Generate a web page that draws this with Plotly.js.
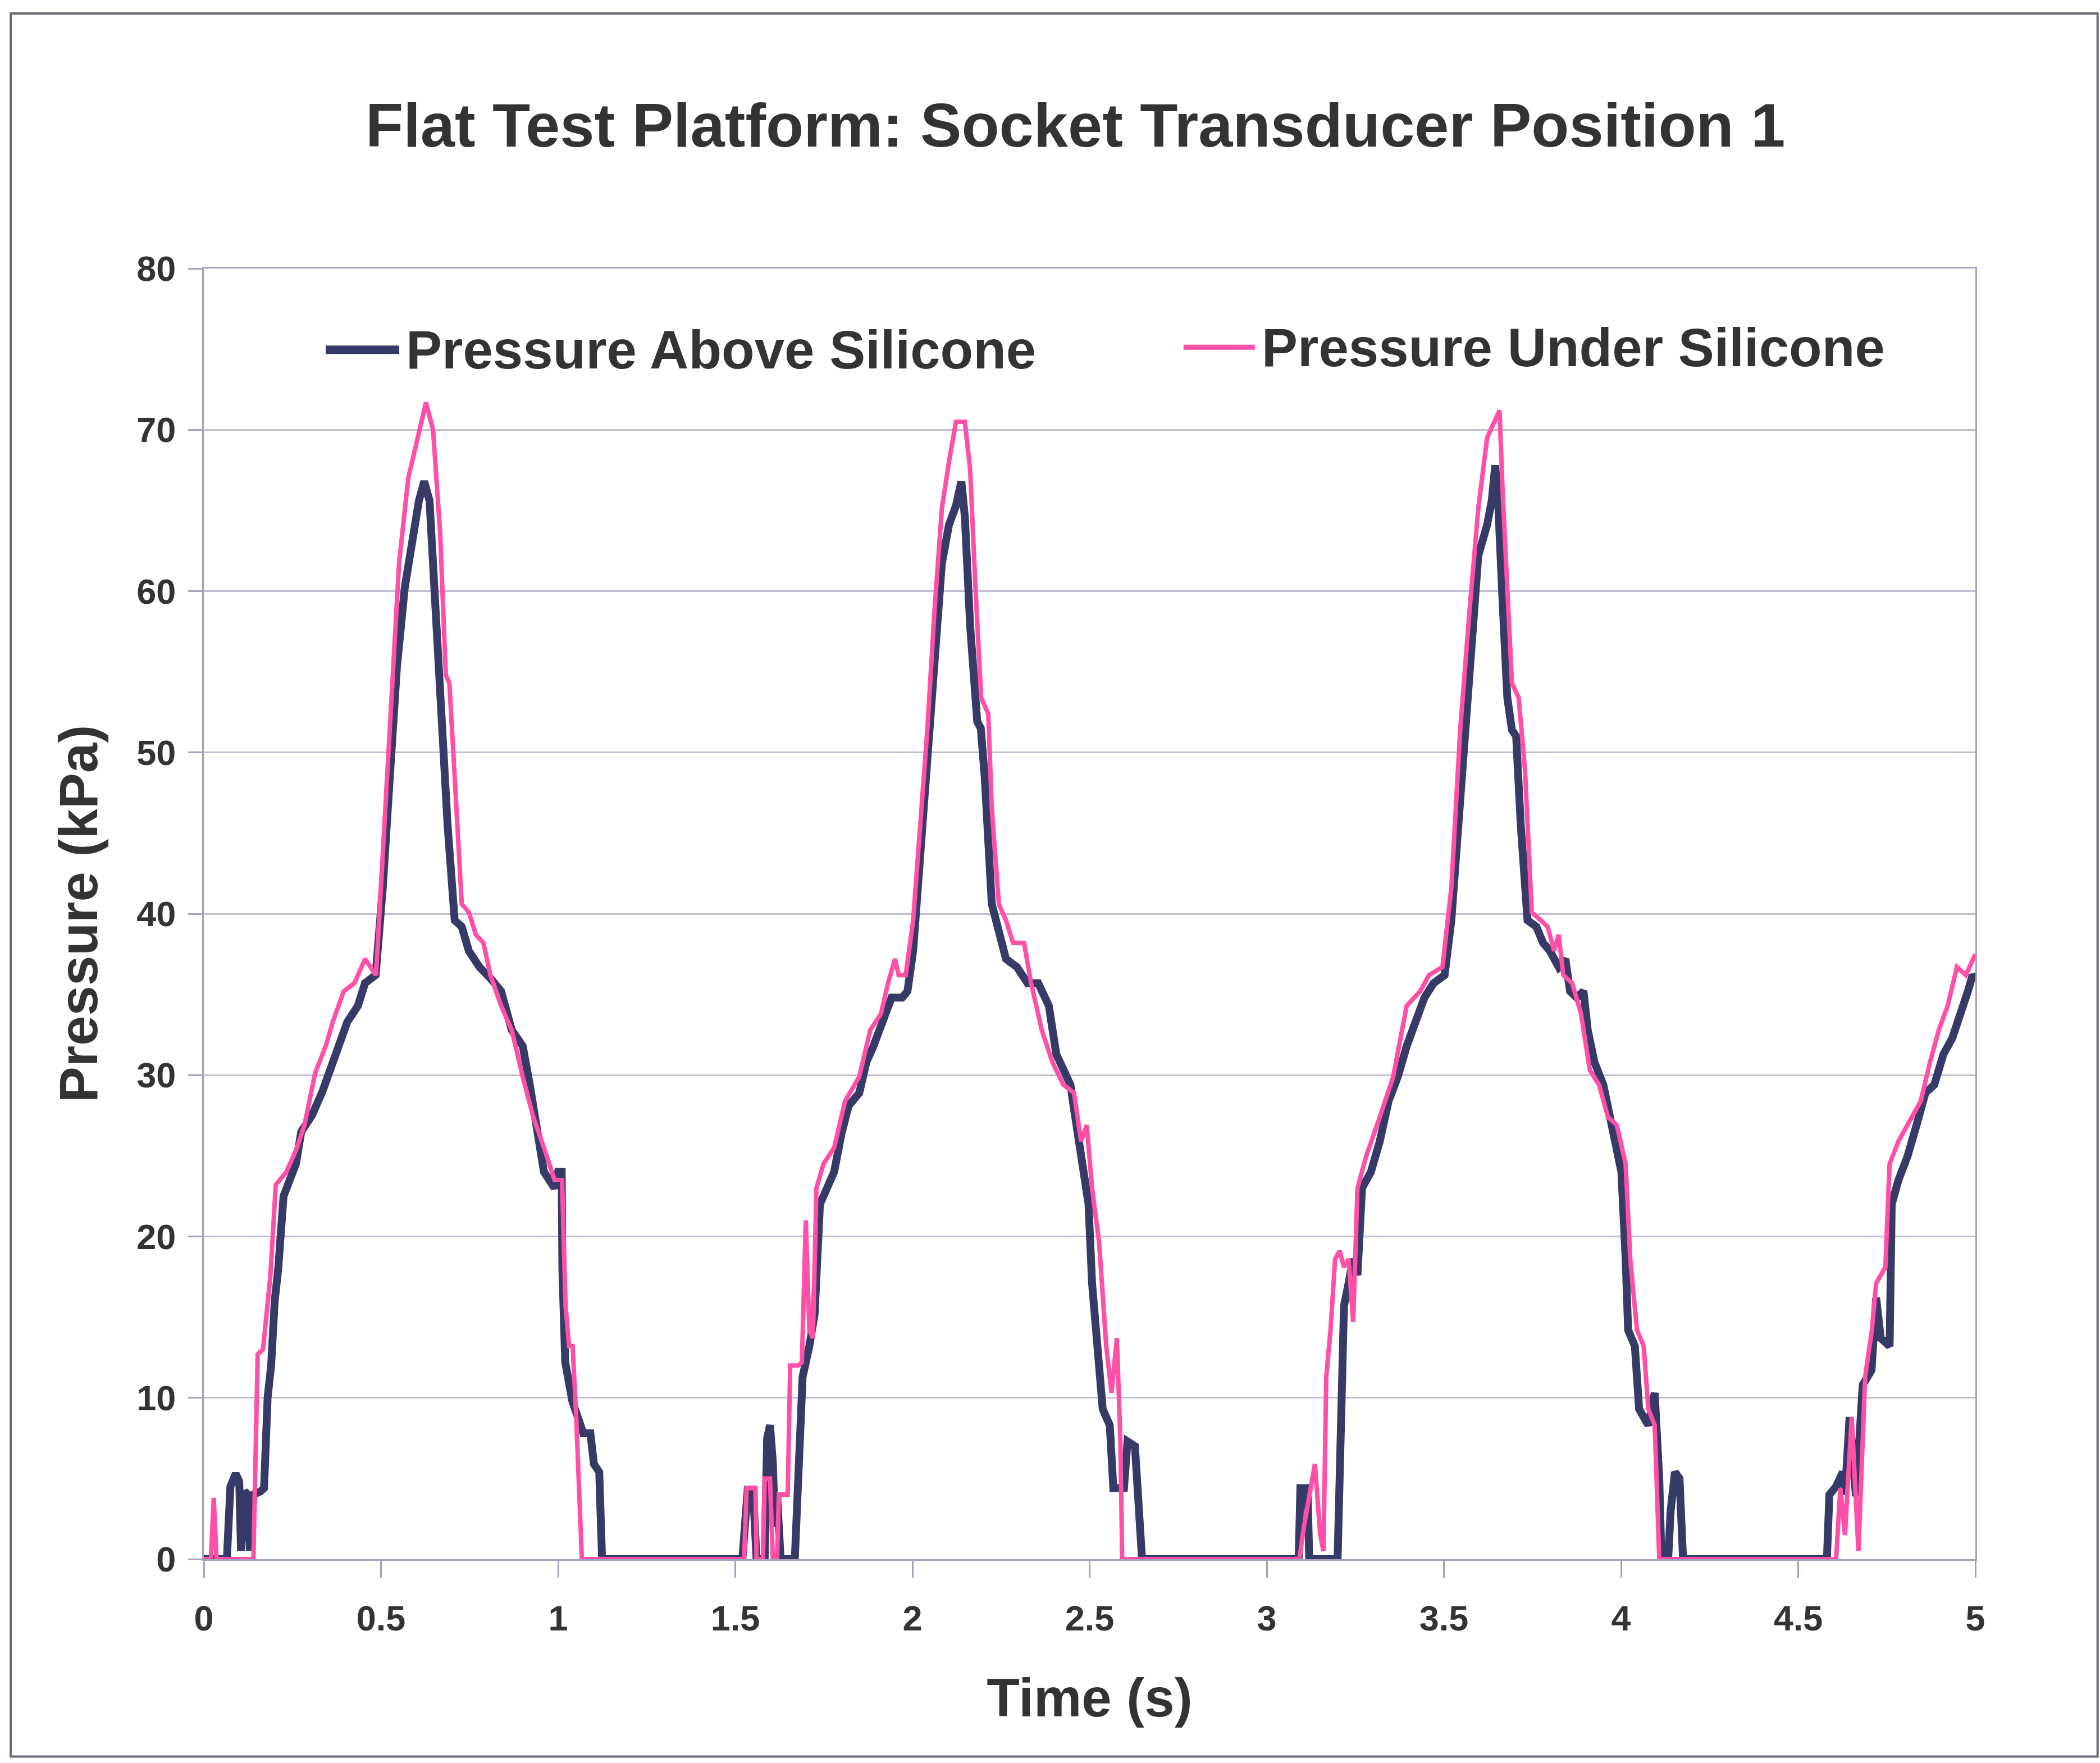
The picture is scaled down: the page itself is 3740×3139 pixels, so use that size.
<!DOCTYPE html>
<html>
<head>
<meta charset="utf-8">
<script src="https://cdn.plot.ly/plotly-3.0.1.min.js"></script>
<style>
  html, body { margin: 0; padding: 0; background: #ffffff; }
  #chart { width: 3740px; height: 3139px; }
</style>
</head>
<body>
<div id="chart"></div>
<script>
// ---- Data ----
const chartTitle = "Flat Test Platform: Socket Transducer Position 1";
const xAxisTitle = "Time (s)";
const yAxisTitle = "Pressure (kPa)";
const seriesNames = ["Pressure Above Silicone", "Pressure Under Silicone"];

// Pressure Above Silicone (kPa) vs time (s)
const aboveTime = [
  0.00, 0.065, 0.075, 0.09, 0.10, 0.105, 0.115, 0.125, 0.13, 0.14, 0.16, 0.17, 0.18, 0.19, 0.20, 0.21,
  0.225, 0.235, 0.26, 0.275, 0.305, 0.335, 0.365, 0.385, 0.405, 0.435, 0.455, 0.485, 0.505, 0.525,
  0.545, 0.567, 0.587, 0.607, 0.622, 0.637, 0.652, 0.667, 0.677, 0.688, 0.708, 0.728, 0.748, 0.778,
  0.809, 0.839, 0.869, 0.90, 0.92, 0.94, 0.96, 0.99, 1.00, 1.01, 1.012, 1.02, 1.04, 1.071, 1.091,
  1.101, 1.116, 1.124,
  1.52, 1.535, 1.55, 1.56, 1.583, 1.59, 1.598, 1.606, 1.612, 1.618, 1.628, 1.668, 1.675, 1.69, 1.709,
  1.724, 1.739, 1.759, 1.779, 1.80, 1.82, 1.85, 1.87, 1.89, 1.921, 1.941, 1.971, 1.986, 2.002, 2.022,
  2.042, 2.062, 2.083, 2.103, 2.123, 2.138, 2.148, 2.163, 2.183, 2.193, 2.204, 2.224, 2.244, 2.264,
  2.295, 2.325, 2.355, 2.385, 2.406, 2.426, 2.446, 2.456, 2.476, 2.497, 2.507, 2.517, 2.527, 2.537,
  2.557, 2.567, 2.597, 2.607, 2.628, 2.638, 2.648,
  3.09, 3.095, 3.115, 3.12, 3.20, 3.212, 3.218, 3.231, 3.243, 3.256, 3.269, 3.294, 3.319, 3.344, 3.37,
  3.395, 3.42, 3.445, 3.471, 3.502, 3.521, 3.54, 3.559, 3.578, 3.597, 3.622, 3.635, 3.645, 3.654,
  3.666, 3.679, 3.692, 3.704, 3.717, 3.736, 3.761, 3.78, 3.799, 3.824, 3.843, 3.856, 3.875, 3.894,
  3.906, 3.925, 3.95, 3.976, 4.001, 4.013, 4.02, 4.039, 4.051, 4.077, 4.095, 4.108, 4.114, 4.133,
  4.14, 4.152, 4.165, 4.175,
  4.581, 4.588, 4.607, 4.626, 4.632, 4.645, 4.663, 4.682, 4.707, 4.72, 4.733, 4.758, 4.764, 4.783,
  4.809, 4.834, 4.859, 4.884, 4.91, 4.935, 4.96, 4.979, 4.992, 5.00
];
const abovePressure = [
  0, 0, 4.5, 5.3, 4.8, 0.5, 4.2, 4.0, 0.5, 4.0, 4.2, 4.4, 10, 12, 16, 18,
  22.5, 23, 24.5, 26.5, 27.5, 29, 30.8, 31.8, 33.3, 34.3, 35.7, 36.2, 41.6, 48.5,
  55.3, 60.2, 63.1, 65.6, 66.8, 65.6, 59.7, 52.9, 49.4, 45.5, 39.6, 39.2, 37.7, 36.7,
  36.0, 35.2, 32.8, 31.8, 29.4, 26.9, 24.0, 23.0, 24.0, 24.0, 18, 12.2, 9.8, 7.8, 7.8,
  5.9, 5.4, 0,
  0, 4.3, 4.3, 0, 0, 7.5, 8.3, 6, 2, 4, 0, 0, 3.9, 11.3, 13.2,
  15.2, 22, 23, 24, 26.4, 28.1, 28.9, 30.8, 31.8, 33.8, 34.8, 34.8, 35.2, 37.7, 43.6,
  48.9, 55.3, 61.7, 64.1, 65.3, 66.8, 64.6, 57.8, 51.9, 51.5, 48.5, 40.6, 38.7, 37.2,
  36.7, 35.7, 35.7, 34.3, 31.3, 30.3, 29.4, 27.9, 25, 22, 17.1, 14.2, 12.7, 9.3,
  8.3, 4.4, 4.4, 7.3, 7, 3.4, 0,
  0, 4.4, 4.4, 0, 0, 11.3, 15.7, 17.1, 18.6, 17.6, 23, 24, 25.9, 28.4, 29.9,
  31.8, 33.3, 34.8, 35.7, 36.2, 39.6, 45.5, 51.4, 57.3, 62.2, 64.1, 65.6, 67.8, 65.1,
  59.2, 53.4, 51.4, 51, 45.5, 39.6, 39.2, 38.2, 37.7, 36.7, 37.2, 35.2, 34.8, 35.2,
  32.8, 30.8, 29.4, 26.4, 24, 18.6, 14.2, 13.2, 9.3, 8.3, 10.3, 4.9, 0, 0,
  3, 5.4, 5, 0,
  0, 4, 4.5, 5.4, 4, 8.8, 3.9, 10.8, 11.7, 16.2, 13.7, 13.2, 22, 23.5,
  25, 26.9, 28.9, 29.4, 31.3, 32.3, 33.8, 35.2, 36.2, 36
];

// Pressure Under Silicone (kPa) vs time (s)
const underTime = [
  0.00, 0.02, 0.028, 0.036, 0.14, 0.152, 0.167, 0.188, 0.203, 0.233, 0.263, 0.284, 0.314, 0.344,
  0.364, 0.395, 0.425, 0.455, 0.486, 0.506, 0.526, 0.551, 0.577, 0.607, 0.627, 0.647, 0.667, 0.683,
  0.693, 0.708, 0.728, 0.748, 0.768, 0.789, 0.809, 0.839, 0.869, 0.90, 0.93, 0.96, 0.99, 1.011,
  1.021, 1.031, 1.041, 1.051, 1.061, 1.067,
  1.525, 1.532, 1.557, 1.56, 1.578, 1.583, 1.598, 1.606, 1.618, 1.623, 1.648, 1.655, 1.678, 1.688,
  1.699, 1.709, 1.719, 1.729, 1.749, 1.779, 1.81, 1.85, 1.881, 1.911, 1.931, 1.951, 1.961, 1.981,
  2.002, 2.022, 2.042, 2.062, 2.083, 2.103, 2.123, 2.148, 2.163, 2.178, 2.194, 2.214, 2.224, 2.244,
  2.264, 2.284, 2.315, 2.335, 2.365, 2.395, 2.426, 2.456, 2.476, 2.492, 2.507, 2.527, 2.547, 2.562,
  2.577, 2.587, 2.592,
  3.092, 3.105, 3.136, 3.151, 3.16, 3.168, 3.18, 3.193, 3.206, 3.218, 3.231, 3.244, 3.256, 3.281,
  3.319, 3.357, 3.395, 3.433, 3.458, 3.496, 3.521, 3.546, 3.572, 3.597, 3.622, 3.641, 3.657, 3.666,
  3.679, 3.692, 3.711, 3.729, 3.748, 3.774, 3.793, 3.811, 3.824, 3.837, 3.862, 3.887, 3.912, 3.938,
  3.963, 3.988, 4.013, 4.026, 4.045, 4.064, 4.077, 4.095, 4.108,
  4.607, 4.619, 4.632, 4.651, 4.67, 4.689, 4.708, 4.72, 4.746, 4.758, 4.783, 4.809, 4.821, 4.846,
  4.872, 4.897, 4.922, 4.948, 4.973, 4.992, 5.00
];
const underPressure = [
  0, 0, 3.8, 0, 0, 12.7, 13, 17.6, 23.2, 24, 25.5, 26.9, 30.1, 31.8,
  33.3, 35.2, 35.7, 37.2, 36.2, 44, 51.4, 61.7, 67, 70, 71.7, 70, 63.6, 54.8,
  54.3, 48.5, 40.6, 40.1, 38.7, 38.2, 36.2, 34.3, 32.8, 29.9, 27.4, 25.5, 23.5, 23.5,
  15.7, 13.2, 13.2, 8.8, 3.4, 0,
  0, 4.4, 4.4, 0, 0, 5, 5, 0, 0, 4, 4, 12, 12, 12.2,
  21, 14.2, 13.7, 23, 24.5, 25.5, 28.4, 29.9, 32.8, 33.8, 35.7, 37.2, 36.2, 36.2,
  39.6, 45.5, 51.4, 58.7, 65.1, 68, 70.5, 70.5, 67.5, 60.2, 53.4, 52.4, 46.5, 40.6,
  39.6, 38.2, 38.2, 35.7, 32.8, 30.8, 29.4, 28.9, 25.9, 26.9, 23, 19.6, 13.2, 10.3,
  13.7, 7.3, 0,
  0, 2, 5.9, 1.5, 0.5, 11.3, 14.2, 18.6, 19.1, 18.1, 18.6, 14.7, 23, 25,
  27.4, 29.9, 34.3, 35.2, 36.2, 36.7, 41.6, 51.4, 58.7, 65.1, 69.5, 70.5, 71.2, 66.1,
  59.7, 54.3, 53.4, 48.9, 40.1, 39.6, 39.2, 37.7, 38.7, 36.2, 35.7, 33.8, 30.3, 29.4,
  27.4, 26.9, 24.5, 18.6, 14.2, 13.2, 9.3, 8.3, 0,
  0, 4.4, 1.5, 8.8, 0.5, 11.3, 14.2, 17.1, 18.1, 24.5, 25.9, 26.9, 27.4, 28.4,
  30.8, 32.8, 34.3, 36.7, 36.2, 37.2, 37.5
];

const xTickValues = [0, 0.5, 1, 1.5, 2, 2.5, 3, 3.5, 4, 4.5, 5];
const yTickValues = [0, 10, 20, 30, 40, 50, 60, 70, 80];

// ---- Styling ----
const FONT = "Liberation Sans, Arial, Helvetica, sans-serif";
const TEXT = "#333333";
const NAVY = "#363a66";
const PINK = "#ff4fa6";
const AXIS = "#a79fbb";
const GRID = "#c3bcd2";

const traces = [
  {
    x: aboveTime, y: abovePressure, name: seriesNames[0],
    type: "scatter", mode: "lines", cliponaxis: false,
    line: { color: NAVY, width: 14, shape: "linear" }
  },
  {
    x: underTime, y: underPressure, name: seriesNames[1],
    type: "scatter", mode: "lines", cliponaxis: false,
    line: { color: PINK, width: 8, shape: "linear" }
  }
];

const legY = 0.937;
const layout = {
  width: 3740, height: 3139,
  paper_bgcolor: "#ffffff", plot_bgcolor: "#ffffff",
  margin: { l: 363, r: 222, t: 478, b: 363, pad: 0 },
  showlegend: false,
  font: { family: FONT, color: TEXT },
  title: {
    text: chartTitle,
    font: { family: FONT, size: 110, weight: "bold", color: TEXT },
    xref: "paper", x: 0.492, xanchor: "center",
    yref: "container", y: 0.929, yanchor: "middle"
  },
  xaxis: {
    range: [0, 5], tickvals: xTickValues, ticktext: xTickValues.map(String),
    showgrid: false, zeroline: false,
    showline: true, linecolor: AXIS, linewidth: 3, mirror: true,
    ticks: "outside", ticklen: 30, tickwidth: 3, tickcolor: AXIS,
    ticklabelstandoff: 18,
    tickfont: { family: FONT, size: 63, weight: "bold", color: TEXT },
    title: { text: xAxisTitle, standoff: 75,
             font: { family: FONT, size: 96, weight: "bold", color: TEXT } },
    automargin: false, fixedrange: true
  },
  yaxis: {
    range: [0, 80], tickvals: yTickValues,
    showgrid: true, gridcolor: GRID, gridwidth: 3, zeroline: false,
    showline: true, linecolor: AXIS, linewidth: 3, mirror: true,
    ticks: "outside", ticklen: 25, tickwidth: 3, tickcolor: AXIS,
    ticklabelstandoff: 9,
    tickfont: { family: FONT, size: 63, weight: "bold", color: TEXT },
    title: { text: yAxisTitle, standoff: 38,
             font: { family: FONT, size: 96, weight: "bold", color: TEXT } },
    automargin: false, fixedrange: true
  },
  shapes: [
    // outer chart frame
    { type: "rect", xref: "paper", yref: "paper",
      x0: -0.109, x1: 1.069, y0: -0.153, y1: 1.1976,
      line: { color: "#6e6878", width: 4 }, layer: "below" },
    // legend samples
    { type: "line", xref: "paper", yref: "paper", x0: 0.0688, x1: 0.1103, y0: legY, y1: legY,
      line: { color: NAVY, width: 15 } },
    { type: "line", xref: "paper", yref: "paper", x0: 0.553, x1: 0.5933, y0: legY + 0.002, y1: legY + 0.002,
      line: { color: PINK, width: 9 } }
  ],
  annotations: [
    { text: seriesNames[0], xref: "paper", yref: "paper", x: 0.1135, y: legY,
      xanchor: "left", yanchor: "middle", showarrow: false,
      font: { family: FONT, size: 96, weight: "bold", color: TEXT } },
    { text: seriesNames[1], xref: "paper", yref: "paper", x: 0.5965, y: legY + 0.002,
      xanchor: "left", yanchor: "middle", showarrow: false,
      font: { family: FONT, size: 96, weight: "bold", color: TEXT } }
  ]
};

Plotly.newPlot("chart", traces, layout, { staticPlot: true, displayModeBar: false });
</script>
</body>
</html>
